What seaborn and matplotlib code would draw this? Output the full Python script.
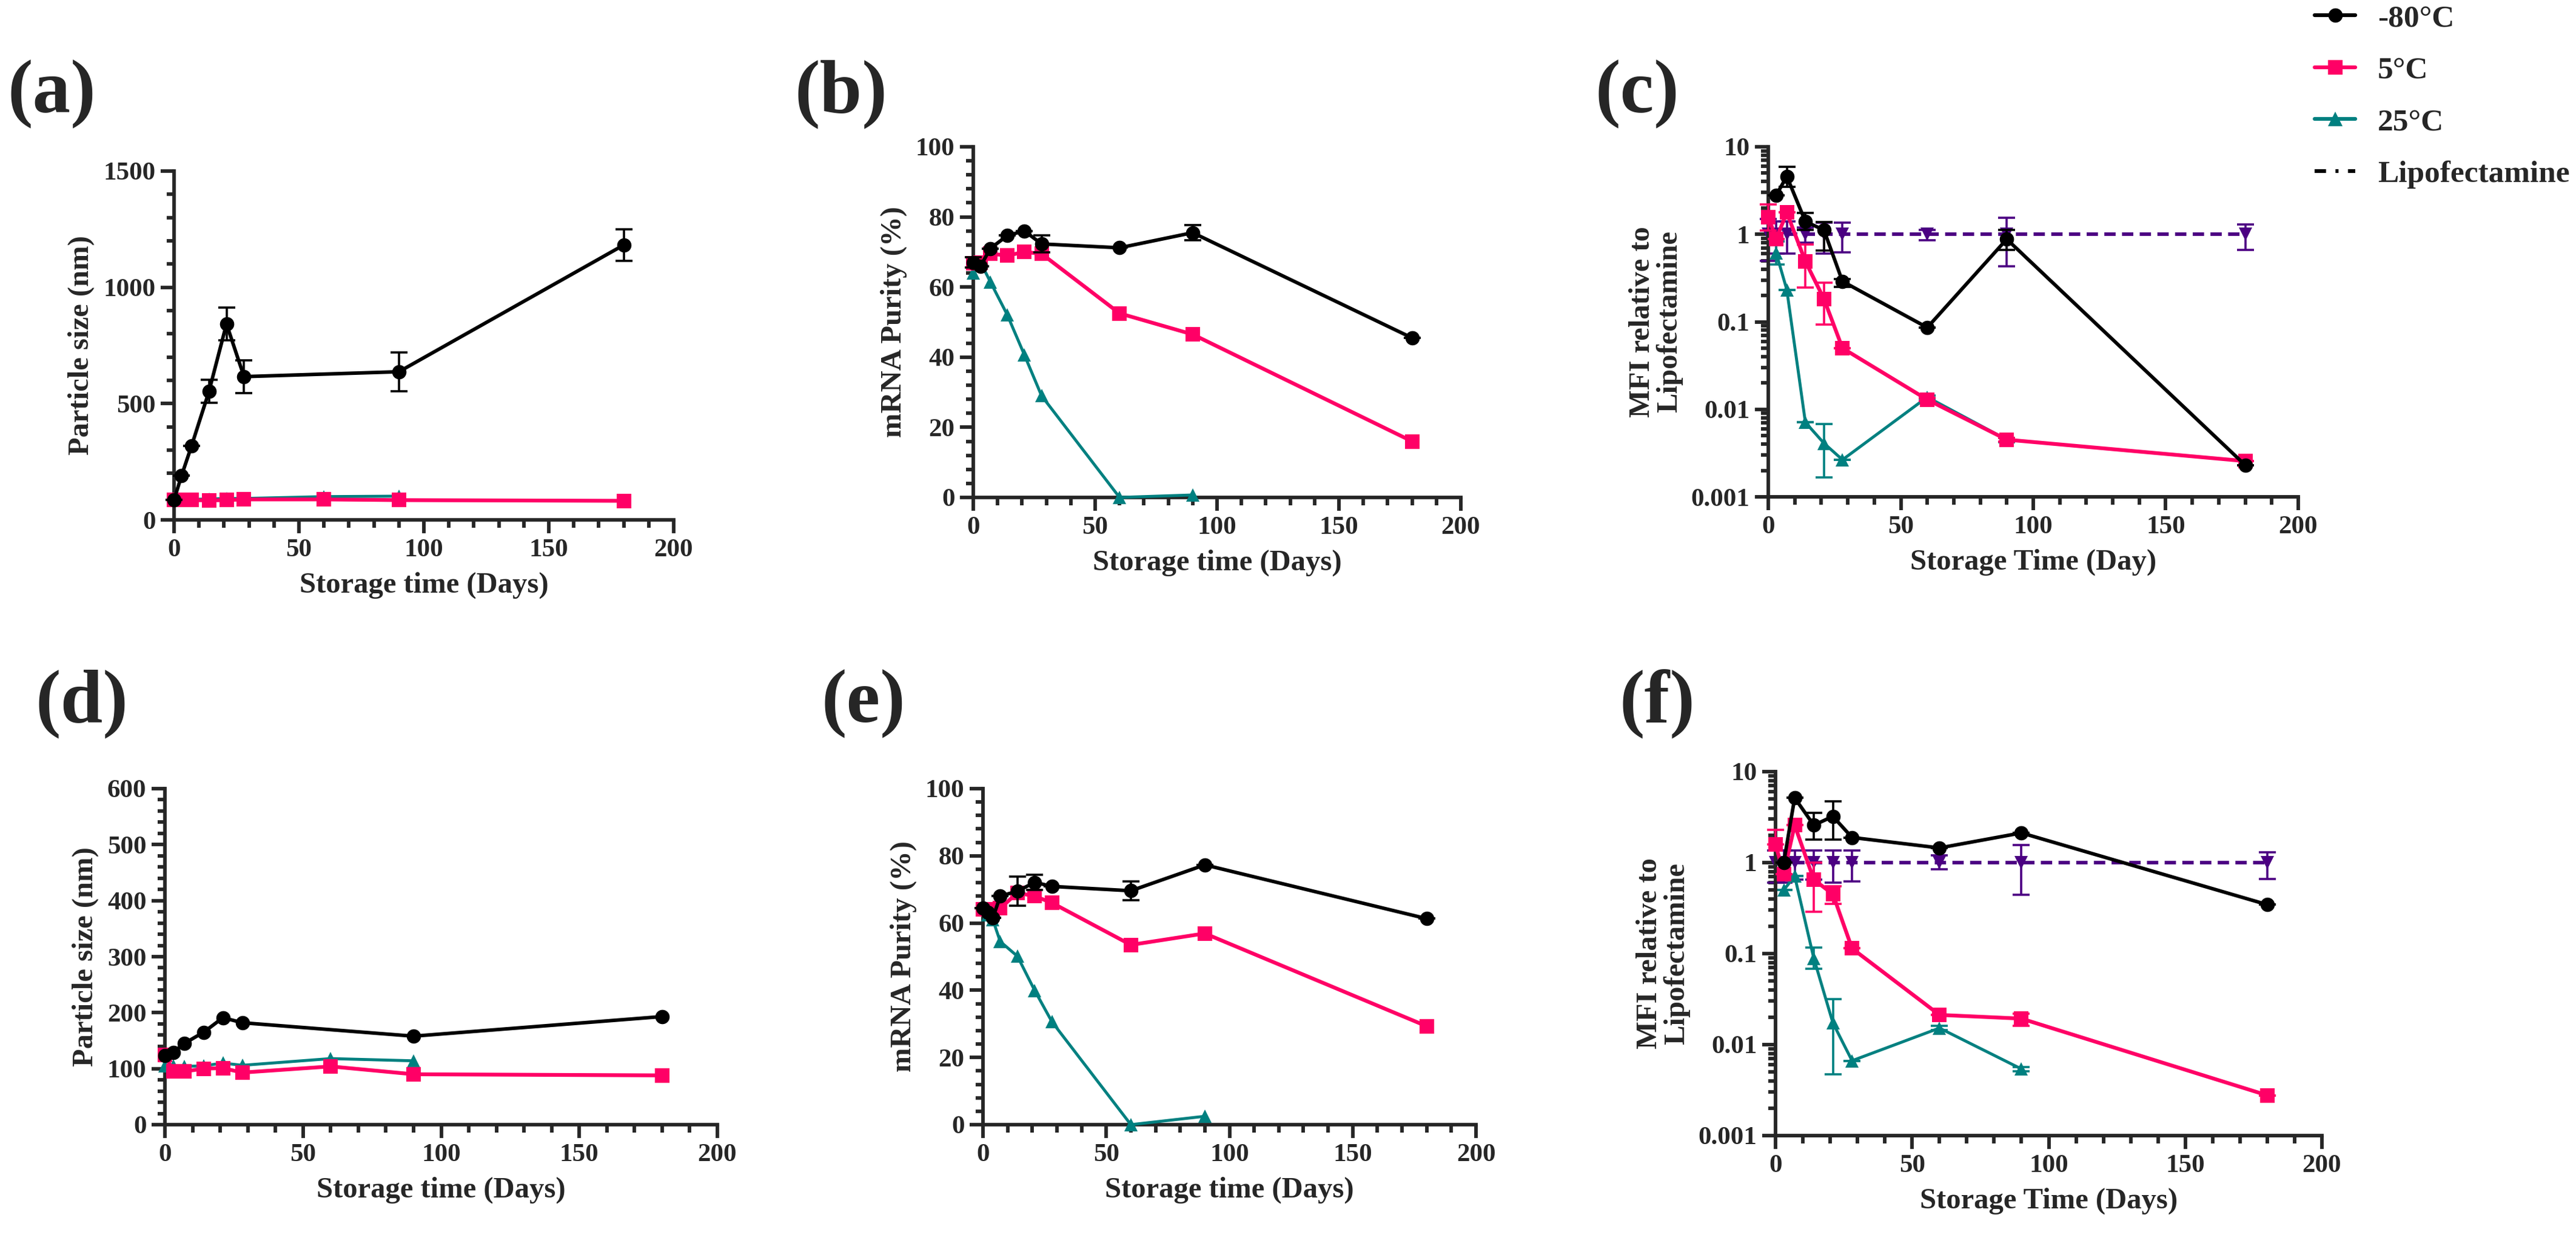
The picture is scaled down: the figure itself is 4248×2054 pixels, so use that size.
import numpy as np
import pandas as pd
import matplotlib
matplotlib.use("Agg")
import matplotlib.pyplot as plt
import seaborn as sns
from matplotlib.lines import Line2D
from matplotlib.ticker import MultipleLocator, FixedLocator, FixedFormatter, NullFormatter

# ---------------- data ----------------
# (a) particle size, formulation 1
A_BLK_D = [0, 3, 7, 14, 21, 28, 90, 180]
A_BLK_V = [86, 190, 318, 553, 843, 616, 637, 1182]
A_BLK_E = [0, 0, 0, 50, 70, 70, 83, 67]
A_PNK_D = [0, 3, 7, 14, 21, 28, 60, 90, 180]
A_PNK_V = [85, 85, 85, 84, 85, 88, 88, 85, 82]
A_TEA_D = [0, 3, 7, 14, 21, 28, 60, 90]
A_TEA_V = [88, 88, 88, 90, 92, 92, 100, 102]

# (b) mRNA purity, formulation 1
B_BLK_D = [0, 3, 7, 14, 21, 28, 60, 90, 180]
B_BLK_V = [67, 66, 71, 74.7, 76, 72.3, 71.2, 75.5, 45.5]
B_BLK_E = [1.5, 0, 0, 0, 0, 2.4, 0, 2.2, 0]
B_PNK_D = [0, 3, 7, 14, 21, 28, 60, 90, 180]
B_PNK_V = [66.8, 67, 69.5, 69, 70, 69.5, 52.5, 46.5, 16]
B_TEA_D = [0, 3, 7, 14, 21, 28, 60, 90]
B_TEA_V = [64, 67, 61.5, 52, 40.6, 29, 0, 0.7]

# (c) MFI relative to Lipofectamine, formulation 1
C_BLK_D = [3, 7, 14, 21, 28, 60, 90, 180]
C_BLK_V = [2.8, 4.6, 1.4, 1.12, 0.29, 0.086, 0.88, 0.0023]
C_BLK_LO = [2.8, 3.5, 1.12, 0.65, 0.25, 0.086, 0.66, 0.0023]
C_BLK_HI = [2.8, 5.9, 1.76, 1.38, 0.31, 0.086, 1.12, 0.0023]
C_PNK_D = [0, 3, 7, 14, 21, 28, 60, 90, 180]
C_PNK_V = [1.58, 0.89, 1.77, 0.49, 0.183, 0.050, 0.0129, 0.0045, 0.00256]
C_PNK_LO = [1.1, 0.89, 1.77, 0.245, 0.093, 0.050, 0.0125, 0.0043, 0.00256]
C_PNK_HI = [2.2, 0.89, 1.77, 0.77, 0.28, 0.050, 0.0135, 0.0047, 0.00256]
C_TEA_D = [3, 7, 14, 21, 28, 60, 90]
C_TEA_V = [0.61, 0.232, 0.0071, 0.0041, 0.00265, 0.0138, 0.0045]
C_TEA_LO = [0.45, 0.232, 0.0071, 0.00167, 0.00265, 0.0133, 0.0042]
C_TEA_HI = [0.83, 0.232, 0.0071, 0.0068, 0.00265, 0.0143, 0.0047]
C_LIP_D = [0, 3, 7, 14, 21, 28, 60, 90, 180]
C_LIP_V = [1, 1, 1, 1, 1, 1, 1, 1, 1]
C_LIP_LO = [0.5, 0.6, 0.6, 0.8, 0.6, 0.62, 0.85, 0.43, 0.66]
C_LIP_HI = [1.5, 1.4, 1.4, 1.2, 1.35, 1.35, 1.12, 1.55, 1.3]

# (d) particle size, formulation 2
D_BLK_D = [0, 3, 7, 14, 21, 28, 90, 180]
D_BLK_V = [123, 129, 145, 165, 191, 182, 158, 193]
D_PNK_D = [0, 3, 7, 14, 21, 28, 60, 90, 180]
D_PNK_V = [125, 95, 95, 100, 101, 93, 104, 90, 88]
D_TEA_D = [0, 3, 7, 14, 21, 28, 60, 90]
D_TEA_V = [105, 105, 104, 105, 110, 106, 118, 114]

# (e) mRNA purity, formulation 2
E_BLK_D = [0, 2, 4, 7, 14, 21, 28, 60, 90, 180]
E_BLK_V = [64.4, 63.1, 61.5, 68, 69.5, 72.1, 70.9, 69.6, 77.3, 61.3]
E_BLK_E = [0, 0, 0, 0, 4.4, 2.2, 0, 2.8, 0, 0]
E_PNK_D = [0, 2, 4, 7, 14, 21, 28, 60, 90, 180]
E_PNK_V = [64.1, 64, 64, 64.4, 69, 68, 66, 53.5, 56.9, 29.3]
E_TEA_D = [0, 2, 4, 7, 14, 21, 28, 60, 90]
E_TEA_V = [64, 62.5, 61, 54.5, 50.1, 39.9, 30.6, 0, 2.5]

# (f) MFI relative to Lipofectamine, formulation 2
F_BLK_D = [3, 7, 14, 21, 28, 60, 90, 180]
F_BLK_V = [1.0, 5.15, 2.58, 3.22, 1.89, 1.45, 2.12, 0.345]
F_BLK_LO = [1.0, 5.15, 1.8, 1.8, 1.89, 1.45, 2.12, 0.345]
F_BLK_HI = [1.0, 5.15, 3.5, 4.7, 1.89, 1.45, 2.12, 0.345]
F_PNK_D = [0, 3, 7, 14, 21, 28, 60, 90, 180]
F_PNK_V = [1.58, 0.75, 2.58, 0.65, 0.45, 0.114, 0.0212, 0.0193, 0.00277]
F_PNK_LO = [1.58, 0.75, 2.58, 0.29, 0.35, 0.114, 0.0212, 0.016, 0.00277]
F_PNK_HI = [2.3, 0.75, 2.58, 1.0, 0.55, 0.114, 0.0212, 0.022, 0.00277]
F_TEA_D = [3, 7, 14, 21, 28, 60, 90]
F_TEA_V = [0.50, 0.71, 0.089, 0.0173, 0.00665, 0.0152, 0.0054]
F_TEA_LO = [0.50, 0.71, 0.068, 0.0047, 0.00665, 0.0145, 0.0051]
F_TEA_HI = [0.50, 0.71, 0.117, 0.0316, 0.00665, 0.0160, 0.0057]
F_LIP_D = [0, 3, 7, 14, 21, 28, 60, 90, 180]
F_LIP_V = [1, 1, 1, 1, 1, 1, 1, 1, 1]
F_LIP_LO = [0.6, 0.6, 0.65, 0.65, 0.6, 0.62, 0.85, 0.44, 0.66]
F_LIP_HI = [1.35, 1.35, 1.35, 1.35, 1.35, 1.35, 1.2, 1.55, 1.3]

LEGEND_LABELS = ["-80°C", "5°C", "25°C", "Lipofectamine"]
LOG_TICKS = [0.001, 0.01, 0.1, 1, 10]
LOG_TICK_LABELS = ["0.001", "0.01", "0.1", "1", "10"]

# ---------------- style ----------------
BLACK = "#000000"
PINK = "#FF0066"
TEAL = "#008080"
PURPLE = "#4B0082"

sns.set_style("ticks")
plt.rcParams["font.family"] = ["Liberation Serif", "DejaVu Serif"]
plt.rcParams["font.weight"] = "bold"
plt.rcParams["axes.labelweight"] = "bold"

W, H = 4248, 2054
DPI = 100
fig = plt.figure(figsize=(W / DPI, H / DPI), dpi=DPI)


def px_axes(l, r, t, b):
    return fig.add_axes([l / W, 1 - b / H, (r - l) / W, (b - t) / H])


TICK_FS = 31
LABEL_FS = 35


def style_axes(ax):
    sns.despine(ax=ax)
    for s in ["left", "bottom"]:
        ax.spines[s].set_linewidth(4.2)
    ax.tick_params(axis="both", which="major", width=4.2, length=16, labelsize=TICK_FS, pad=6)
    ax.tick_params(axis="both", which="minor", width=4.2, length=9)
    for lab in ax.get_xticklabels() + ax.get_yticklabels():
        lab.set_fontweight("bold")
    ax.set_xlim(0, 200)
    ax.xaxis.set_major_locator(MultipleLocator(50))
    ax.xaxis.set_minor_locator(MultipleLocator(10))


def labels(ax, xl, yl):
    ax.set_xlabel(xl, fontsize=LABEL_FS, fontweight="bold", labelpad=12)
    ax.set_ylabel(yl, fontsize=LABEL_FS, fontweight="bold", labelpad=10, linespacing=1.0)


def series(ax, d, v, color, marker, ms, lw, err=None, lo=None, hi=None, ls="-", z=3, elw=2.6):
    df = pd.DataFrame({"day": d, "val": v})
    sns.lineplot(data=df, x="day", y="val", ax=ax, color=color, marker=marker,
                 markersize=ms, linewidth=lw, markeredgewidth=0, linestyle=ls,
                 zorder=z, clip_on=False, legend=False, errorbar=None, sort=False)
    yerr = None
    if err is not None:
        yerr = np.array(err, dtype=float)
    elif lo is not None:
        vv = np.array(v, dtype=float)
        yerr = np.vstack([vv - np.array(lo, dtype=float), np.array(hi, dtype=float) - vv])
    if yerr is not None:
        ax.errorbar(d, v, yerr=yerr, fmt="none", ecolor=color, elinewidth=elw,
                    capsize=10, capthick=elw, zorder=z - 0.5, clip_on=False)


def log_axes(ax):
    ax.set_yscale("log")
    ax.set_ylim(0.001, 10)
    ax.yaxis.set_major_locator(FixedLocator(LOG_TICKS))
    ax.yaxis.set_major_formatter(FixedFormatter(LOG_TICK_LABELS))
    minors = [m * 10.0 ** e for e in range(-3, 1) for m in range(2, 10)]
    ax.yaxis.set_minor_locator(FixedLocator(minors))
    ax.yaxis.set_minor_formatter(NullFormatter())


MS_C, MS_S, MS_T = 17, 17, 16
LW_K, LW_P, LW_T, LW_L = 4.2, 4.5, 3.5, 4.2
DASH = (0, (3.2, 1.8))

# (a)
ax = px_axes(287, 1111, 282, 857)
series(ax, A_TEA_D, A_TEA_V, TEAL, "^", MS_T, LW_T, z=3)
series(ax, A_PNK_D, A_PNK_V, PINK, "s", MS_S, LW_P, z=4)
series(ax, A_BLK_D, A_BLK_V, BLACK, "o", MS_C, LW_K, err=A_BLK_E, z=5)
ax.set_ylim(0, 1500)
ax.yaxis.set_major_locator(MultipleLocator(500))
ax.yaxis.set_minor_locator(MultipleLocator(100))
style_axes(ax)
labels(ax, "Storage time (Days)", "Particle size (nm)")

# (b)
ax = px_axes(1605, 2409, 242, 820)
series(ax, B_TEA_D, B_TEA_V, TEAL, "^", MS_T, LW_T, z=3)
series(ax, B_PNK_D, B_PNK_V, PINK, "s", MS_S, LW_P, z=4)
series(ax, B_BLK_D, B_BLK_V, BLACK, "o", MS_C, LW_K, err=B_BLK_E, z=5)
ax.set_ylim(0, 100)
ax.yaxis.set_major_locator(MultipleLocator(20))
ax.yaxis.set_minor_locator(MultipleLocator(4))
style_axes(ax)
labels(ax, "Storage time (Days)", "mRNA Purity (%)")

# (c)
ax = px_axes(2916, 3790, 242, 819)
series(ax, C_LIP_D, C_LIP_V, PURPLE, "v", MS_T, LW_L, lo=C_LIP_LO, hi=C_LIP_HI, ls=DASH, z=2)
series(ax, C_TEA_D, C_TEA_V, TEAL, "^", MS_T, LW_T, lo=C_TEA_LO, hi=C_TEA_HI, z=3)
series(ax, C_PNK_D, C_PNK_V, PINK, "s", MS_S, LW_P, lo=C_PNK_LO, hi=C_PNK_HI, z=4)
series(ax, C_BLK_D, C_BLK_V, BLACK, "o", MS_C, LW_K, lo=C_BLK_LO, hi=C_BLK_HI, z=5)
log_axes(ax)
style_axes(ax)
labels(ax, "Storage Time (Day)", "MFI relative to\nLipofectamine")

# (d)
ax = px_axes(272, 1183, 1300, 1854)
series(ax, D_TEA_D, D_TEA_V, TEAL, "^", MS_T, LW_T, z=3)
series(ax, D_PNK_D, D_PNK_V, PINK, "s", MS_S, LW_P, z=4)
series(ax, D_BLK_D, D_BLK_V, BLACK, "o", MS_C, LW_K, z=5)
ax.set_ylim(0, 600)
ax.yaxis.set_major_locator(MultipleLocator(100))
ax.yaxis.set_minor_locator(MultipleLocator(20))
style_axes(ax)
labels(ax, "Storage time (Days)", "Particle size (nm)")

# (e)
ax = px_axes(1621, 2434, 1300, 1854)
series(ax, E_TEA_D, E_TEA_V, TEAL, "^", MS_T, LW_T, z=3)
series(ax, E_PNK_D, E_PNK_V, PINK, "s", MS_S, LW_P, z=4)
series(ax, E_BLK_D, E_BLK_V, BLACK, "o", MS_C, LW_K, err=E_BLK_E, z=5)
ax.set_ylim(0, 100)
ax.yaxis.set_major_locator(MultipleLocator(20))
ax.yaxis.set_minor_locator(MultipleLocator(4))
style_axes(ax)
labels(ax, "Storage time (Days)", "mRNA Purity (%)")

# (f)
ax = px_axes(2928, 3829, 1272, 1872)
series(ax, F_LIP_D, F_LIP_V, PURPLE, "v", MS_T, LW_L, lo=F_LIP_LO, hi=F_LIP_HI, ls=DASH, z=2)
series(ax, F_TEA_D, F_TEA_V, TEAL, "^", MS_T, LW_T, lo=F_TEA_LO, hi=F_TEA_HI, z=3)
series(ax, F_PNK_D, F_PNK_V, PINK, "s", MS_S, LW_P, lo=F_PNK_LO, hi=F_PNK_HI, z=4)
series(ax, F_BLK_D, F_BLK_V, BLACK, "o", MS_C, LW_K, lo=F_BLK_LO, hi=F_BLK_HI, z=5)
log_axes(ax)
style_axes(ax)
labels(ax, "Storage Time (Days)", "MFI relative to\nLipofectamine")

# panel letters
for lab, x, y in [("(a)", 13, 155), ("(b)", 1310, 155), ("(c)", 2630, 155),
                  ("(d)", 58, 1160), ("(e)", 1354, 1160), ("(f)", 2670, 1160)]:
    fig.text(x / W, 1 - y / H, lab, fontsize=90, fontweight="bold", va="center", ha="left")

# legend
handles = [
    Line2D([], [], color=BLACK, marker="o", markersize=17, markeredgewidth=0, linewidth=4.5),
    Line2D([], [], color=PINK, marker="s", markersize=17, markeredgewidth=0, linewidth=4.5),
    Line2D([], [], color=TEAL, marker="^", markersize=17, markeredgewidth=0, linewidth=4.5),
    Line2D([], [], color=BLACK, linestyle=(0, (3, 2.5, 0.8, 2.5)), linewidth=4.5),
]
fig.legend(handles, LEGEND_LABELS, loc="upper left", bbox_to_anchor=(3812 / W, 1 - 2 / H),
           frameon=False, prop={"family": "Liberation Serif", "weight": "bold", "size": 37},
           handlelength=1.3, handletextpad=0.72, labelspacing=0.75, borderaxespad=0, borderpad=0.1)

fig.savefig("out.png", dpi=DPI)
